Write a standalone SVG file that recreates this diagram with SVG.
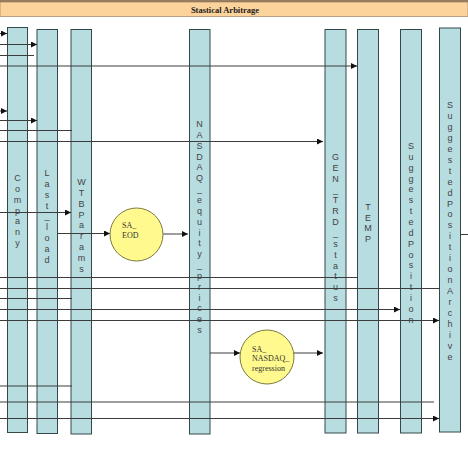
<svg xmlns="http://www.w3.org/2000/svg" width="468" height="468" viewBox="0 0 468 468">
<style>
.col{fill:#B7DDE1;stroke:#34484A;stroke-width:1}
.vt{font-family:"Liberation Sans",Arial,sans-serif;font-size:9px;fill:#444;text-anchor:middle}
.ln{stroke:#3C3C3C;stroke-width:1;fill:none}
.ar{marker-end:url(#ah)}
.proc{fill:#FFF98E;stroke:#7A7A40;stroke-width:1}
.pt{font-family:"Liberation Serif","Times New Roman",serif;font-size:8px;fill:#333}
</style>
<defs>
<marker id="ah" markerUnits="userSpaceOnUse" markerWidth="7" markerHeight="6" refX="6" refY="3" orient="auto">
<path d="M0,0 L6,3 L0,6 z" fill="#111"/>
</marker>
</defs>
<rect width="468" height="468" fill="#fff"/>
<g id="title">
<rect x="0" y="0" width="468" height="2" fill="#9A7E62"/>
<rect x="0" y="2" width="468" height="14.5" fill="#FDD39C" stroke="#8A6E55" stroke-width="0.6"/>
<text x="225" y="12.5" text-anchor="middle" font-family="Liberation Serif,'Times New Roman',serif" font-size="8.5" font-weight="bold" fill="#222">Stastical Arbitrage</text>
</g>
<g id="Company">
<rect class="col" x="7.5" y="27.5" width="20" height="405"/>
<text class="vt" x="17.5" y="181"><tspan x="17.5">C</tspan><tspan x="17.5" dy="10.85">o</tspan><tspan x="17.5" dy="10.85">m</tspan><tspan x="17.5" dy="10.85">p</tspan><tspan x="17.5" dy="10.85">a</tspan><tspan x="17.5" dy="10.85">n</tspan><tspan x="17.5" dy="10.85">y</tspan></text>
</g>
<g id="Last_load">
<rect class="col" x="37" y="29.5" width="20.5" height="404"/>
<text class="vt" x="47" y="176"><tspan x="47">L</tspan><tspan x="47" dy="10.85">a</tspan><tspan x="47" dy="10.85">s</tspan><tspan x="47" dy="10.85">t</tspan><tspan x="47" dy="10.85">_</tspan><tspan x="47" dy="10.85">l</tspan><tspan x="47" dy="10.85">o</tspan><tspan x="47" dy="10.85">a</tspan><tspan x="47" dy="10.85">d</tspan></text>
</g>
<g id="WTBParams">
<rect class="col" x="71" y="29.5" width="20.5" height="404.5"/>
<text class="vt" x="81.5" y="185"><tspan x="81.5">W</tspan><tspan x="81.5" dy="10.85">T</tspan><tspan x="81.5" dy="10.85">B</tspan><tspan x="81.5" dy="10.85">P</tspan><tspan x="81.5" dy="10.85">a</tspan><tspan x="81.5" dy="10.85">r</tspan><tspan x="81.5" dy="10.85">a</tspan><tspan x="81.5" dy="10.85">m</tspan><tspan x="81.5" dy="10.85">s</tspan></text>
</g>
<g id="NASDAQ_equity_prices">
<rect class="col" x="189.5" y="29.5" width="20.5" height="404.5"/>
<text class="vt" x="199.5" y="127"><tspan x="199.5">N</tspan><tspan x="199.5" dy="10.85">A</tspan><tspan x="199.5" dy="10.85">S</tspan><tspan x="199.5" dy="10.85">D</tspan><tspan x="199.5" dy="10.85">A</tspan><tspan x="199.5" dy="10.85">Q</tspan><tspan x="199.5" dy="10.85">_</tspan><tspan x="199.5" dy="10.85">e</tspan><tspan x="199.5" dy="10.85">q</tspan><tspan x="199.5" dy="10.85">u</tspan><tspan x="199.5" dy="10.85">i</tspan><tspan x="199.5" dy="10.85">t</tspan><tspan x="199.5" dy="10.85">y</tspan><tspan x="199.5" dy="10.85">_</tspan><tspan x="199.5" dy="10.85">p</tspan><tspan x="199.5" dy="10.85">r</tspan><tspan x="199.5" dy="10.85">i</tspan><tspan x="199.5" dy="10.85">c</tspan><tspan x="199.5" dy="10.85">e</tspan><tspan x="199.5" dy="10.85">s</tspan></text>
</g>
<g id="GEN_TRD_status">
<rect class="col" x="325" y="29.5" width="21" height="403.5"/>
<text class="vt" x="335.5" y="160"><tspan x="335.5">G</tspan><tspan x="335.5" dy="10.85">E</tspan><tspan x="335.5" dy="10.85">N</tspan><tspan x="335.5" dy="10.85">_</tspan><tspan x="335.5" dy="10.85">T</tspan><tspan x="335.5" dy="10.85">R</tspan><tspan x="335.5" dy="10.85">D</tspan><tspan x="335.5" dy="10.85">_</tspan><tspan x="335.5" dy="10.85">s</tspan><tspan x="335.5" dy="10.85">t</tspan><tspan x="335.5" dy="10.85">a</tspan><tspan x="335.5" dy="10.85">t</tspan><tspan x="335.5" dy="10.85">u</tspan><tspan x="335.5" dy="10.85">s</tspan></text>
</g>
<g id="TEMP">
<rect class="col" x="357.5" y="29.5" width="21" height="403.5"/>
<text class="vt" x="368" y="210"><tspan x="368">T</tspan><tspan x="368" dy="10.7">E</tspan><tspan x="368" dy="10.7">M</tspan><tspan x="368" dy="10.7">P</tspan></text>
</g>
<g id="SuggestedPosition">
<rect class="col" x="400.5" y="29.5" width="21" height="403.5"/>
<text class="vt" x="411" y="149"><tspan x="411">S</tspan><tspan x="411" dy="10.85">u</tspan><tspan x="411" dy="10.85">g</tspan><tspan x="411" dy="10.85">g</tspan><tspan x="411" dy="10.85">e</tspan><tspan x="411" dy="10.85">s</tspan><tspan x="411" dy="10.85">t</tspan><tspan x="411" dy="10.85">e</tspan><tspan x="411" dy="10.85">d</tspan><tspan x="411" dy="10.85">P</tspan><tspan x="411" dy="10.85">o</tspan><tspan x="411" dy="10.85">s</tspan><tspan x="411" dy="10.85">i</tspan><tspan x="411" dy="10.85">t</tspan><tspan x="411" dy="10.85">i</tspan><tspan x="411" dy="10.85">o</tspan><tspan x="411" dy="10.85">n</tspan></text>
</g>
<g id="SuggestedPositionArchive">
<rect class="col" x="439.5" y="28" width="21" height="404"/>
<text class="vt" x="450" y="108"><tspan x="450">S</tspan><tspan x="450" dy="10.95">u</tspan><tspan x="450" dy="10.95">g</tspan><tspan x="450" dy="10.95">g</tspan><tspan x="450" dy="10.95">e</tspan><tspan x="450" dy="10.95">s</tspan><tspan x="450" dy="10.95">t</tspan><tspan x="450" dy="10.95">e</tspan><tspan x="450" dy="10.95">d</tspan><tspan x="450" dy="10.95">P</tspan><tspan x="450" dy="10.95">o</tspan><tspan x="450" dy="10.95">s</tspan><tspan x="450" dy="10.95">i</tspan><tspan x="450" dy="10.95">t</tspan><tspan x="450" dy="10.95">i</tspan><tspan x="450" dy="10.95">o</tspan><tspan x="450" dy="10.95">n</tspan><tspan x="450" dy="10.95">A</tspan><tspan x="450" dy="10.95">r</tspan><tspan x="450" dy="10.95">c</tspan><tspan x="450" dy="10.95">h</tspan><tspan x="450" dy="10.95">i</tspan><tspan x="450" dy="10.95">v</tspan><tspan x="450" dy="10.95">e</tspan></text>
</g>
<g id="connectors">
<path class="ln ar" d="M0,33.5 H7"/>
<path class="ln ar" d="M0,44.5 H37"/>
<path class="ln" d="M0,55.5 H34"/>
<path class="ln ar" d="M0,66 H357"/>
<path class="ln ar" d="M0,111 H7"/>
<path class="ln ar" d="M0,120.5 H37"/>
<path class="ln" d="M0,130.5 H72"/>
<path class="ln ar" d="M0,141.5 H323"/>
<path class="ln ar" d="M0,212.5 H71"/>
<path class="ln ar" d="M57.5,233.5 H110"/>
<path class="ln ar" d="M163,234 H188"/>
<path class="ln" d="M0,277.5 H358"/>
<path class="ln" d="M0,288.5 H440"/>
<path class="ln" d="M0,298.5 H72"/>
<path class="ln ar" d="M0,309.5 H400"/>
<path class="ln ar" d="M0,320.5 H439"/>
<path class="ln ar" d="M210,353 H240"/>
<path class="ln ar" d="M294,353 H323"/>
<path class="ln" d="M0,386 H72"/>
<path class="ln" d="M0,402 H434"/>
<path class="ln ar" d="M0,418.5 H439"/>
<path class="ln" d="M460.5,234.5 H468" stroke="#888"/>
</g>
<g id="SA_EOD">
<circle class="proc" cx="136.5" cy="234.5" r="26.5"/>
<text class="pt" x="122" y="228">SA_</text>
<text class="pt" x="122" y="238">EOD</text>
</g>
<g id="SA_NASDAQ_regression">
<circle class="proc" cx="267" cy="357" r="27"/>
<text class="pt" x="252" y="351.5">SA_</text>
<text class="pt" x="252" y="360.5">NASDAQ_</text>
<text class="pt" x="252" y="370.5">regression</text>
</g>
</svg>
